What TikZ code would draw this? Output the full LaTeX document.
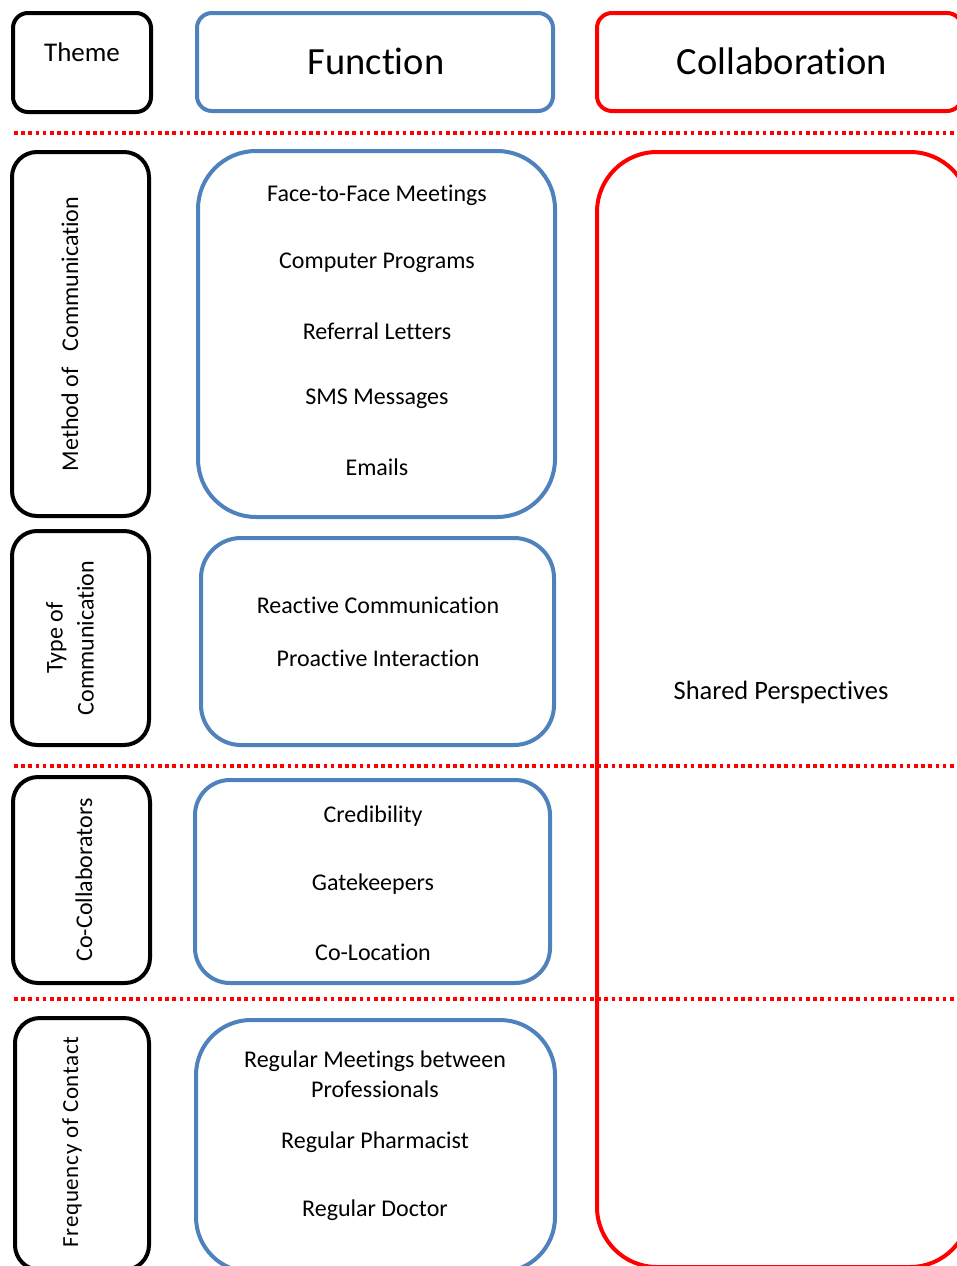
\documentclass[tikz,border=0pt]{standalone}
\usepackage{fontspec}
\setmainfont{Carlito}[Ligatures=NoCommon]
\begin{document}
\begin{tikzpicture}[x=1pt,y=-1pt,
  themebox/.style={draw=black,line width=4pt},
  funcbox/.style={draw=fblue,line width=4pt},
  collbox/.style={draw=red,line width=4pt},
  sep/.style={draw=red,line width=3.5pt,dash pattern=on 3.6pt off 3.6pt},
  item/.style={font=\fontsize{24}{30}\selectfont,inner sep=0pt,align=center},
  side/.style={font=\fontsize{24}{31}\selectfont,inner sep=0pt,align=center,rotate=90},
  head/.style={font=\fontsize{38.5}{42}\selectfont,inner sep=0pt}]
\definecolor{fblue}{RGB}{79,129,189}
\useasboundingbox (0,0) rectangle (957,1266);
\clip (0,0) rectangle (957,1266);
% headers
\draw[themebox,rounded corners=15] (13,13) rectangle (151,112);
\draw[funcbox,rounded corners=15] (197,13) rectangle (553,111);
\draw[collbox,rounded corners=15] (597,13) rectangle (962,111);
\node[font=\fontsize{27}{30}\selectfont,inner sep=0pt] (theme) at (82,52) {Theme};
\node[head] (function) at (376,61) {Function};
\node[head] (collab) at (782,61) {Collaboration};
% big red box
\draw[collbox,rounded corners=60] (597,152) rectangle (970,1267);
\node[item,font=\fontsize{26.5}{30}\selectfont] (shared) at (781,692) {Shared Perspectives};
% row 1
\draw[themebox,rounded corners=25] (12,152) rectangle (149,516);
\draw[funcbox,rounded corners=58] (198,151) rectangle (555,517);
\node[side] (method) at (70,334) {Method of\ \ \ Communication};
\node[item] (f1) at (377,195) {Face-to-Face Meetings};
\node[item] (f2) at (377,263) {Computer Programs};
\node[item] (f3) at (377,331) {Referral Letters};
\node[item] (f4) at (377,399) {SMS Messages};
\node[item] (f5) at (377,467) {Emails};
% row 2
\draw[themebox,rounded corners=25] (12,531) rectangle (149,745);
\draw[funcbox,rounded corners=40] (201,538) rectangle (554,745);
\node[side] (type) at (70,638) {Type of\\Communication};
\node[item] (t1) at (378,605) {Reactive Communication};
\node[item] (t2) at (378,658) {Proactive Interaction};
% row 3
\draw[themebox,rounded corners=25] (13,777) rectangle (150,983);
\draw[funcbox,rounded corners=35] (195,780) rectangle (550,983);
\node[side] (cocol) at (84,880) {Co-Collaborators};
\node[item] (c1) at (373,816) {Credibility};
\node[item] (c2) at (373,884) {Gatekeepers};
\node[item] (c3) at (373,952) {Co-Location};
% row 4
\draw[themebox,rounded corners=25] (15,1018) rectangle (149,1270);
\draw[funcbox,rounded corners=55] (196,1020) rectangle (555,1272);
\node[side,font=\fontsize{23}{30}\selectfont\addfontfeatures{LetterSpace=3}] (freq) at (72,1142) {Frequency of Contact};
\node[item] (r1) at (375,1074) {Regular Meetings between\\Professionals};
\node[item] (r2) at (375,1142) {Regular Pharmacist};
\node[item] (r3) at (375,1210) {Regular Doctor};
% separators
\draw[sep] (14,133) -- (957,133);
\draw[sep] (14,766) -- (957,766);
\draw[sep] (14,999) -- (957,999);
\end{tikzpicture}
\end{document}
